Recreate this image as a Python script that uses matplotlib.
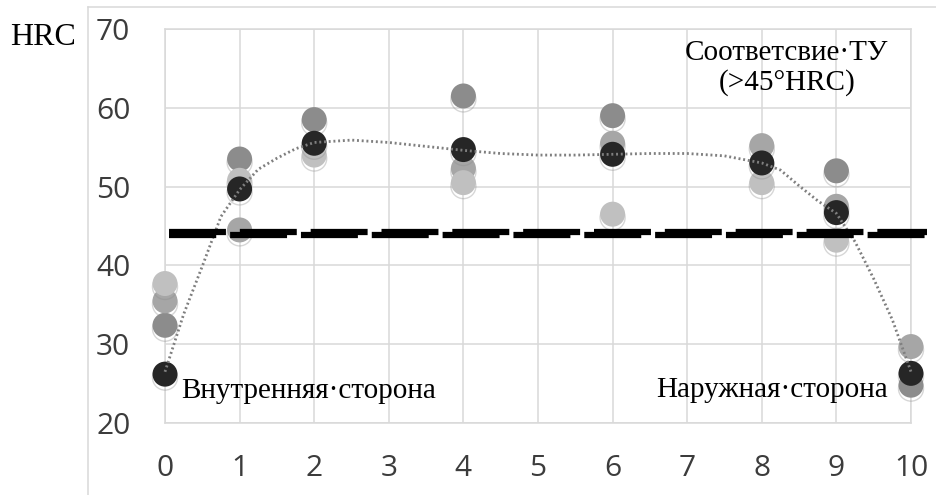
import numpy as np
import matplotlib
matplotlib.use("Agg")
import matplotlib.pyplot as plt
import matplotlib.patheffects as pe
from matplotlib.lines import Line2D

plt.rcParams['lines.scale_dashes'] = False

# positions where measurements were taken
x_pos = [0, 1, 2, 4, 6, 8, 9, 10]

# individual measurements (None = no point)
s_dark = [32.4, 53.5, 58.5, 61.5, 59.0, None, 52.0, 24.8]
s_mid = [35.5, 44.5, None, 52.3, 55.5, 55.2, 47.5, 29.7]
s_light = [37.7, 50.8, 54.0, 50.5, 46.5, 50.5, 43.2, None]
s_black = [26.2, 49.7, 55.5, 54.7, 54.1, 53.0, 46.7, 26.3]

# smoothed trend line
trend_x = [0, 0.25, 0.5, 0.75, 1, 1.25, 1.5, 1.75, 2, 2.5, 3, 3.5, 4, 4.5, 5,
           5.5, 6, 6.5, 7, 7.5, 8, 8.25, 8.5, 8.75, 9, 9.25, 9.5, 9.75, 10]
trend_y = [26.5, 33.8, 39.9, 46.2, 49.6, 52.2, 53.6, 54.8, 55.6, 55.9, 55.6,
           55.1, 54.6, 54.2, 54.0, 54.0, 54.1, 54.2, 54.2, 53.9, 53.0, 52.1,
           50.1, 48.2, 46.6, 43.0, 38.3, 33.1, 26.5]

limit_hrc = 44.1
x_ticks = list(range(0, 11))
y_ticks = [20, 30, 40, 50, 60, 70]

fig = plt.figure(figsize=(9.37, 4.95), dpi=100)
ax = fig.add_axes([165 / 937, 1 - 423 / 495, 746 / 937, 394 / 495])

grid_c = '#d9d9d9'
ax.set_xlim(0, 10)
ax.set_ylim(20, 70)
ax.set_xticks(x_ticks)
ax.set_yticks(y_ticks)
ax.grid(True, color=grid_c, lw=1.1, zorder=0)
ax.set_axisbelow(True)
for sp in ax.spines.values():
    sp.set_color(grid_c)
    sp.set_linewidth(1.1)
ax.tick_params(length=0, labelsize=21.5, labelcolor='#3c3c3c')
ax.tick_params(axis='y', pad=25)
ax.tick_params(axis='x', pad=22)
for lab in ax.get_xticklabels() + ax.get_yticklabels():
    lab.set_family('Open Sans')

shadow = [pe.SimpleLineShadow(offset=(0, -2.5), shadow_color='0.55', alpha=0.35),
          pe.Normal()]


def dots(vals, color, z):
    xs = [x for x, v in zip(x_pos, vals) if v is not None]
    ys = [v for v in vals if v is not None]
    ax.plot(xs, ys, 'o', ms=18, color=color, mec='none', zorder=z,
            clip_on=False, path_effects=shadow)


dots(s_dark, '#8c8c8c', 3)
dots(s_mid, '#a6a6a6', 3)
dots(s_light, '#c0c0c0', 3)
dots(s_black, '#262626', 4)

ax.plot(trend_x, trend_y, color='#7f7f7f', lw=2, ls=(0, (1.4, 2.0)),
        dash_capstyle='butt', zorder=5, clip_on=False)

# limit line (dashed, slightly jagged as in the original)
for dy, off in [(0.2, 0), (-0.2, 7)]:
    ax.plot([0.05, 10.22], [limit_hrc + dy] * 2, color='black', lw=4.5,
            ls=(off, (41, 10)), dash_capstyle='butt', zorder=6, clip_on=False)

serif = 'Liberation Serif'
fig.text(10 / 937, 1 - 45 / 495, 'HRC', family=serif, fontsize=23,
         va='baseline', ha='left')
fig.text(181 / 937, 1 - 398 / 495, 'Внутренняя·сторона', family=serif,
         fontsize=21, va='baseline', ha='left')
fig.text(888 / 937, 1 - 397 / 495, 'Наружная·сторона', family=serif,
         fontsize=21, va='baseline', ha='right')
fig.text(787 / 937, 1 - 60 / 495, 'Соответсвие·ТУ', family=serif,
         fontsize=21, va='baseline', ha='center')
fig.text(787 / 937, 1 - 90 / 495, '(>45°HRC)', family=serif,
         fontsize=21, va='baseline', ha='center')

# outer frame of the embedded chart
fig.add_artist(Line2D([88.5 / 937, 88.5 / 937], [0, 1 - 7 / 495], color=grid_c, lw=1.1))
fig.add_artist(Line2D([88.5 / 937, 1], [1 - 7 / 495, 1 - 7 / 495], color=grid_c, lw=1.1))

fig.savefig('out.png', dpi=100)
